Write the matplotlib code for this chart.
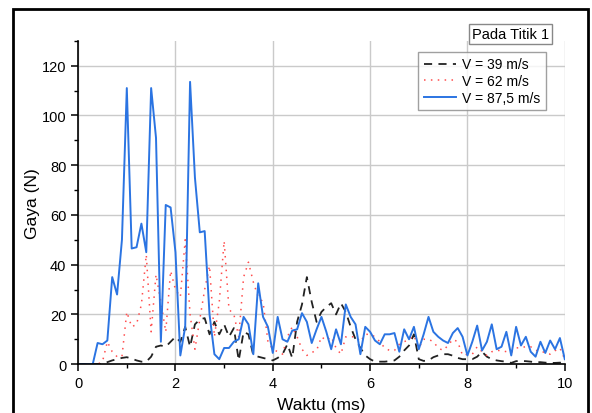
import numpy as np
import matplotlib
matplotlib.use('Agg')
import matplotlib.pyplot as plt
from matplotlib.patches import Rectangle
from matplotlib.ticker import MultipleLocator

plt.rcParams['font.family'] = ['Liberation Sans', 'DejaVu Sans']

# waktu (ms), sampled every 0.1 ms
t = np.round(np.arange(0, 10.01, 0.1), 1)

v39 = [0, 0, 0, 0, 0, 0, 0.8, 1.5, 2, 2.5,
       2.8, 2.2, 1.5, 1, 1, 3, 7, 7.5, 7, 9,
       11, 9, 15, 7, 16, 18, 18.5, 12, 17, 12,
       16, 11, 14.5, 1.5, 13, 12, 3.5, 3, 2.5, 2,
       1.5, 2.5, 4, 8, 2.5, 17, 24, 35, 25, 17,
       21, 23, 24.5, 20, 24.5, 21, 15, 10, 6.5, 3.5,
       2, 1, 1, 1, 1.2, 1.5, 3, 5.5, 7.5, 12,
       2, 1.3, 1.5, 2.8, 3.5, 4, 4, 3.4, 2.5, 2,
       2, 2, 3, 5, 3, 2, 1.5, 1.2, 1, 0.5,
       1.2, 1.3, 1.2, 1, 0.8, 0.8, 0.6, 0.5, 0.5, 0.6,
       0.5]

v62 = [0, 0, 0, 0, 0, 1, 9, 5, 3, 3,
       21, 15, 16, 24, 44, 13, 36, 25, 13, 37.5,
       30, 27, 50, 20, 6, 18, 30, 39.5, 11, 25,
       49.5, 22, 20, 11, 35, 41, 33, 27, 25, 9,
       6, 5, 4, 11, 15, 11, 6, 3.5, 4.7, 5.5,
       11, 9.5, 11, 6.5, 4, 11, 11, 11, 9, 12,
       12, 11, 9, 6.5, 5.5, 5.5, 8, 9, 10, 11.5,
       6.5, 10, 10, 9, 6.5, 5.5, 7.5, 10, 9, 3.5,
       4, 4, 7, 5, 3.5, 5, 5.5, 5.5, 5, 4.7,
       6.5, 6.7, 7, 7, 5.5, 5.4, 4.5, 4, 5.4, 6.5,
       2]

v875 = [0, 0, 0, 0, 8.5, 8, 9.5, 35, 28, 50,
        111, 46.5, 47, 56.5, 45, 111, 91, 9, 64, 63,
        45, 3.5, 15, 113.5, 75, 53, 53.5, 20, 4, 2,
        6.5, 6.5, 9, 10, 19, 16, 4, 32.5, 19, 15,
        4.5, 19, 10, 9, 13.5, 14, 20.5, 17, 8.5, 14,
        19, 13, 6, 14, 8, 24, 19, 16, 4, 15,
        13, 9.5, 8, 12, 12, 12.5, 5, 14, 10, 15,
        6, 12, 19, 13, 11, 9.5, 8.5, 12.5, 14.5, 11,
        3.5, 9, 15.5, 5.5, 9, 16, 6, 7, 13, 3.5,
        15, 7.5, 11, 5, 3, 9, 4.5, 9.5, 6, 10.5,
        2]

labels = ['V = 39 m/s', 'V = 62 m/s', 'V = 87,5 m/s']

fig = plt.figure(figsize=(5.92, 4.14), dpi=100)
ax = fig.add_axes([0.132, 0.118, 0.822, 0.781])

ax.plot(t, v39, color='#222222', lw=1.3, ls=(0, (4.5, 3.5)), label=labels[0])
ax.plot(t, v62, color='#ff4d4d', lw=1.1, ls=(0, (1, 3.5)), label=labels[1])
ax.plot(t, v875, color='#2b74e2', lw=1.4, label=labels[2])

ax.set_xlim(0, 10)
ax.set_ylim(0, 130)
ax.xaxis.set_major_locator(MultipleLocator(2))
ax.xaxis.set_minor_locator(MultipleLocator(1))
ax.yaxis.set_minor_locator(MultipleLocator(10))
ax.set_yticks([0, 20, 40, 60, 80, 100, 120])
ax.grid(True, which='major', color='#cacaca', lw=1.0)
ax.set_axisbelow(True)

for s in ['top', 'right']:
    ax.spines[s].set_visible(False)
for s in ['left', 'bottom']:
    ax.spines[s].set_linewidth(1.2)
ax.tick_params(which='major', direction='out', length=5, width=1.1, labelsize=10.5)
ax.tick_params(which='minor', direction='out', length=3, width=1.0)

ax.set_xlabel('Waktu (ms)', fontsize=12.5, labelpad=5)
ax.set_ylabel('Gaya (N)', fontsize=12.5, labelpad=1)

leg = ax.legend(loc='upper right', bbox_to_anchor=(0.962, 0.966), fontsize=10,
                frameon=True, fancybox=False, edgecolor='#888888',
                handlelength=2.3, handletextpad=0.5, borderpad=0.4,
                labelspacing=0.2, borderaxespad=0)
leg.get_frame().set_linewidth(1.0)

fig.text(0.863, 0.916, 'Pada Titik 1', ha='center', va='center', fontsize=10.5,
         bbox=dict(boxstyle='square,pad=0.2', fc='white', ec='#888888', lw=1.0))

# outer frame around the figure
fig.patches.append(Rectangle((0.022, -0.05), 0.971, 1.026, transform=fig.transFigure,
                             fill=False, ec='black', lw=2, clip_on=False))

fig.savefig('out.png', dpi=100)
